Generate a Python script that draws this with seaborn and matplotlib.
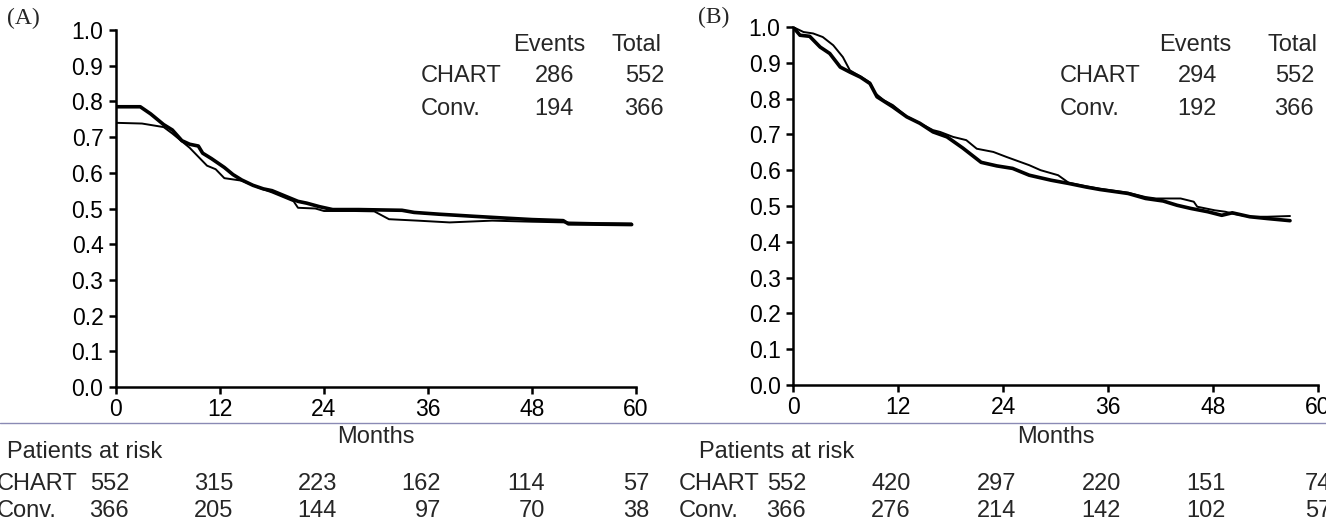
import matplotlib
matplotlib.use("Agg")
import matplotlib.pyplot as plt
import matplotlib.transforms as mtransforms
from matplotlib.lines import Line2D
import numpy as np
import pandas as pd
import seaborn as sns

# ---- survival curves (months, proportion surviving) ----
# Panel A
a_chart_month = [0, 2.8, 4, 5.5, 6.5, 7.6, 8.5, 9.5, 10, 11, 11.6, 12.5, 13.5, 14.5,
                 15.8, 17, 18, 19, 20, 21, 22, 23.5, 25, 28, 33, 34.4, 37.3, 41.4,
                 45, 48, 51.6, 52.2, 56, 59.5]
a_chart_surv = [0.785, 0.785, 0.765, 0.735, 0.72, 0.69, 0.68, 0.675, 0.655, 0.64,
                0.63, 0.615, 0.595, 0.58, 0.565, 0.555, 0.55, 0.54, 0.53, 0.52,
                0.515, 0.505, 0.497, 0.497, 0.495, 0.489, 0.484, 0.478, 0.473,
                0.469, 0.466, 0.457, 0.456, 0.455]
a_conv_month = [0, 3, 5.5, 6.5, 7.5, 8.5, 9.5, 10.5, 11.5, 12.5, 14.5, 16.5, 18,
                19.5, 20.5, 21, 23, 24, 27.5, 29.8, 31.5, 34.8, 38.5, 43.4, 48,
                52, 56, 59.5]
a_conv_surv = [0.74, 0.738, 0.728, 0.71, 0.69, 0.67, 0.645, 0.62, 0.61, 0.585,
               0.578, 0.558, 0.545, 0.53, 0.52, 0.502, 0.50, 0.493, 0.493, 0.492,
               0.47, 0.466, 0.461, 0.466, 0.463, 0.461, 0.459, 0.458]

# Panel B
b_chart_month = [0, 0.8, 1.9, 3.1, 4.2, 5.4, 6.5, 7.7, 8.8, 9.6, 11.4, 13.0, 14.5,
                 16.0, 17.6, 19.4, 21.5, 23.3, 25.1, 27, 29.5, 31.5, 33.5, 35.1,
                 38.3, 40.3, 42.3, 43.9, 45.5, 47.4, 49, 50.2, 52.2, 54.2, 56.8]
b_chart_surv = [1.0, 0.977, 0.974, 0.944, 0.926, 0.888, 0.874, 0.860, 0.842, 0.805,
                0.777, 0.749, 0.731, 0.707, 0.693, 0.662, 0.622, 0.612, 0.605,
                0.586, 0.572, 0.563, 0.553, 0.546, 0.535, 0.521, 0.514, 0.502,
                0.493, 0.484, 0.474, 0.481, 0.470, 0.465, 0.459]
b_conv_month = [0, 1.2, 2.3, 3.4, 4.6, 5.7, 6.5, 7.7, 8.8, 9.4, 10.4, 11.4, 13,
                14.5, 16, 16.8, 18.3, 19.8, 21, 22.9, 24.4, 27, 28.3, 30.3, 31.5,
                33.5, 35.1, 38.3, 40.3, 41.5, 44.3, 45.8, 46.2, 48.2, 49.4, 50.2,
                52.2, 54.2, 56.8]
b_conv_surv = [1.0, 0.986, 0.982, 0.972, 0.949, 0.916, 0.879, 0.862, 0.845, 0.815,
               0.795, 0.782, 0.75, 0.731, 0.712, 0.707, 0.693, 0.684, 0.660, 0.651,
               0.637, 0.614, 0.60, 0.586, 0.565, 0.555, 0.548, 0.537, 0.525, 0.521,
               0.521, 0.512, 0.498, 0.488, 0.484, 0.479, 0.470, 0.470, 0.472]

# ---- summary tables ----
arms = ["CHART", "Conv."]
a_events = [286, 194]
b_events = [294, 192]
totals = [552, 366]

risk_months = [0, 12, 24, 36, 48, 60]
a_risk_chart = [552, 315, 223, 162, 114, 57]
a_risk_conv = [366, 205, 144, 97, 70, 38]
b_risk_chart = [552, 420, 297, 220, 151, 74]
b_risk_conv = [366, 276, 214, 142, 102, 57]

x_ticks = [0, 12, 24, 36, 48, 60]
y_ticks = [0.0, 0.1, 0.2, 0.3, 0.4, 0.5, 0.6, 0.7, 0.8, 0.9, 1.0]

# ---- style ----
sns.set_style("ticks")
plt.rcParams["font.family"] = ["Liberation Sans", "DejaVu Sans"]
plt.rcParams["axes.linewidth"] = 1.8

W, H = 1326, 523
fig = plt.figure(figsize=(W / 100, H / 100), dpi=100)
FS = 17
TICK_FS = 16.5


def fx(px):
    return px / W


def fy(py):
    return 1 - py / H


ax_a = fig.add_axes([fx(116), fy(387), fx(636) - fx(116), fy(30) - fy(387)])
ax_b = fig.add_axes([fx(793), fy(385), fx(1318) - fx(793), fy(27) - fy(385)])


def curves_frame(chart_m, chart_s, conv_m, conv_s):
    return pd.concat([
        pd.DataFrame({"month": chart_m, "surv": chart_s, "arm": "CHART"}),
        pd.DataFrame({"month": conv_m, "surv": conv_s, "arm": "Conv."}),
    ], ignore_index=True)


def draw_panel(ax, df):
    for arm, lw in (("Conv.", 1.4), ("CHART", 2.6)):
        sns.lineplot(data=df[df["arm"] == arm], x="month", y="surv",
                     estimator=None, sort=False, color="black", linewidth=lw,
                     ax=ax, legend=False)
    ax.set_xlim(0, 60)
    ax.set_ylim(0, 1.0)
    ax.set_xticks(x_ticks)
    ax.set_xticklabels([str(t) for t in x_ticks])
    ax.set_yticks(y_ticks)
    ax.set_yticklabels([f"{t:.1f}" for t in y_ticks])
    ax.set_xlabel("")
    ax.set_ylabel("")
    ax.tick_params(axis="both", labelsize=TICK_FS, length=5, width=1.8,
                   colors="black", direction="out")
    ax.tick_params(axis="x", pad=3)
    ax.tick_params(axis="y", pad=4)
    for s in ("top", "right"):
        ax.spines[s].set_visible(False)
    for s in ("left", "bottom"):
        ax.spines[s].set_color("black")
    ax.patch.set_alpha(0)


draw_panel(ax_a, curves_frame(a_chart_month, a_chart_surv, a_conv_month, a_conv_surv))
draw_panel(ax_b, curves_frame(b_chart_month, b_chart_surv, b_conv_month, b_conv_surv))

# panel letters
fig.text(fx(7), fy(18), "(A)", family="Liberation Serif", fontsize=17, va="center")
fig.text(fx(698), fy(17), "(B)", family="Liberation Serif", fontsize=17, va="center")


def events_table(events, label_x, ev_right, tot_right, ev_left, tot_left):
    fig.text(fx(ev_left), fy(45), "Events", fontsize=FS, va="center", ha="left")
    fig.text(fx(tot_left), fy(45), "Total", fontsize=FS, va="center", ha="left")
    for arm, ev, tot, y in zip(arms, events, totals, (76, 109)):
        fig.text(fx(label_x), fy(y), arm, fontsize=FS, va="center", ha="left")
        fig.text(fx(ev_right), fy(y), str(ev), fontsize=FS, va="center", ha="right")
        fig.text(fx(tot_right), fy(y), str(tot), fontsize=FS, va="center", ha="right")


events_table(a_events, 421, 574, 664, 513, 611)
events_table(b_events, 1060, 1217, 1314, 1159, 1267)


def risk_table(ax, chart_row, conv_row, label_x, title_x):
    cx = (ax.get_position().x0 + ax.get_position().x1) / 2
    fig.text(cx, fy(437), "Months", fontsize=FS, va="center", ha="center")
    fig.text(fx(title_x), fy(452), "Patients at risk", fontsize=FS,
             va="center", ha="left")
    base = mtransforms.blended_transform_factory(ax.transData, fig.transFigure)
    trans = mtransforms.offset_copy(base, fig=fig, x=13, y=0, units="dots")
    for arm, row, y in zip(arms, (chart_row, conv_row), (484, 511)):
        fig.text(fx(label_x), fy(y), arm, fontsize=FS, va="center", ha="left")
        for m, n in zip(risk_months, row):
            fig.text(m, fy(y), str(n), fontsize=FS, va="center", ha="right",
                     transform=trans)


risk_table(ax_a, a_risk_chart, a_risk_conv, -3, 7)
risk_table(ax_b, b_risk_chart, b_risk_conv, 679, 699)

# thin rule across the page below the axes labels
fig.add_artist(Line2D([0, 1], [fy(423), fy(423)], transform=fig.transFigure,
                      color="#8a8ab4", linewidth=1.0))

fig.savefig("out.png", dpi=100, facecolor="white")
